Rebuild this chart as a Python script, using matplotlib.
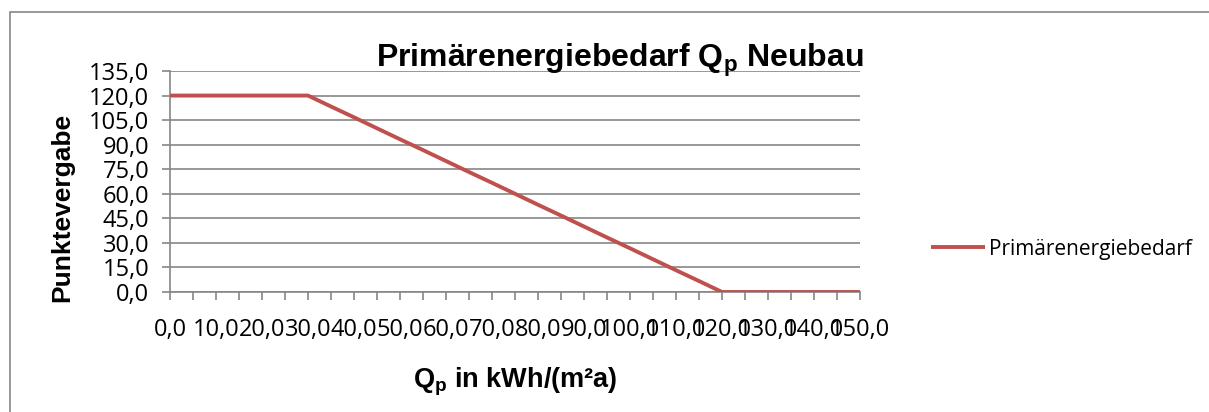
import matplotlib
matplotlib.use('Agg')
import matplotlib.pyplot as plt
from matplotlib.patches import Rectangle

# Punktevergabe je Qp-Stufe (kWh/(m²a))
qp_werte = [0, 5, 10, 15, 20, 25, 30, 35, 40, 45, 50, 55, 60, 65, 70, 75,
            80, 85, 90, 95, 100, 105, 110, 115, 120, 125, 130, 135, 140, 145, 150]
punkte = [120.0, 120.0, 120.0, 120.0, 120.0, 120.0, 120.0, 113.3, 106.7, 100.0,
          93.3, 86.7, 80.0, 73.3, 66.7, 60.0, 53.3, 46.7, 40.0, 33.3, 26.7,
          20.0, 13.3, 6.7, 0.0, 0.0, 0.0, 0.0, 0.0, 0.0, 0.0]
x_labels = [0, 10, 20, 30, 40, 50, 60, 70, 80, 90, 100, 110, 120, 130, 140, 150]
y_labels = [0, 15, 30, 45, 60, 75, 90, 105, 120, 135]
serie_name = 'Primärenergiebedarf'

W, H = 1209, 412
GRAU = '#868686'
ROT = '#C0504D'
TICK_FONT = 'Open Sans'
BOLD_FONT = 'Liberation Sans'


def fmt(v):
    return f'{v:.1f}'.replace('.', ',')


def main():
    fig = plt.figure(figsize=(W / 100, H / 100), dpi=100)
    fig.patch.set_facecolor('white')

    # Rahmen um das Diagramm (rechts und unten abgeschnitten)
    fig.patches.append(Rectangle((10 / W, -10 / H), 1210 / W, 410 / H,
                                 transform=fig.transFigure, fill=False,
                                 edgecolor=GRAU, linewidth=1.2))

    ax = fig.add_axes([170 / W, (H - 292) / H, 690 / W, 221 / H])
    ax.plot(qp_werte, punkte, color=ROT, linewidth=2.8, solid_capstyle='butt',
            label=serie_name, zorder=3)

    ax.set_xlim(0, 150)
    ax.set_ylim(0, 135)
    ax.set_xticks(x_labels)
    ax.set_xticklabels([fmt(v) for v in x_labels])
    ax.set_xticks(qp_werte, minor=True)
    ax.set_yticks(y_labels)
    ax.set_yticklabels([fmt(v) for v in y_labels])

    for lab in ax.get_xticklabels() + ax.get_yticklabels():
        lab.set_fontfamily(TICK_FONT)
        lab.set_fontsize(17)
        lab.set_color('#000000')

    ax.tick_params(axis='x', which='both', direction='out', length=6, width=1.2,
                   color=GRAU, pad=13)
    ax.tick_params(axis='y', which='both', direction='out', length=6, width=1.2,
                   color=GRAU, pad=9)

    ax.yaxis.grid(True, color=GRAU, linewidth=1.2)
    ax.set_axisbelow(True)
    for side in ['top', 'right']:
        ax.spines[side].set_visible(False)
    for side in ['left', 'bottom']:
        ax.spines[side].set_color(GRAU)
        ax.spines[side].set_linewidth(1.2)

    fig.text(620 / W, (H - 60) / H, 'Primärenergiebedarf $\\mathregular{Q_p}$ Neubau',
             ha='center', va='center', fontsize=23, fontweight='bold',
             family=BOLD_FONT)
    fig.text(515 / W, (H - 382) / H, '$\\mathregular{Q_p}$ in kWh/(m²a)',
             ha='center', va='center', fontsize=19.5, fontweight='bold',
             family=BOLD_FONT)
    fig.text(62 / W, (H - 207) / H, 'Punktevergabe', rotation=90,
             ha='center', va='center', fontsize=19, fontweight='bold',
             family=BOLD_FONT)

    fig.legend(loc='center left', bbox_to_anchor=(931 / W, (H - 249) / H),
               frameon=False, prop={'family': TICK_FONT, 'size': 15},
               handlelength=2.6, handletextpad=0.2, borderpad=0, borderaxespad=0)

    fig.savefig('out.png', dpi=100, facecolor='white')


if __name__ == '__main__':
    main()
